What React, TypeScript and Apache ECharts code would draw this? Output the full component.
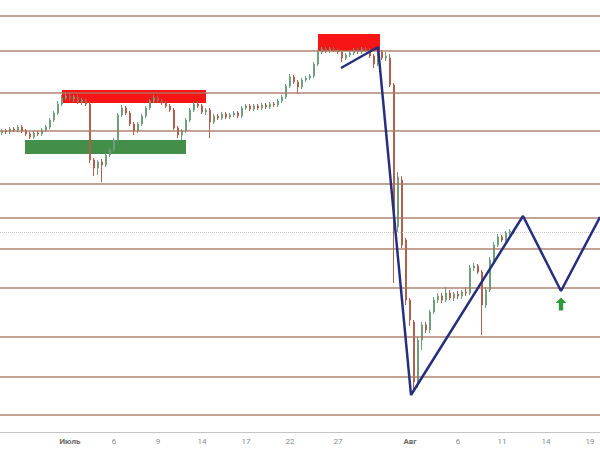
import React, { useEffect, useRef } from "react";
import * as echarts from "echarts";

// candle data: [open, close, low, high]
const candles: number[][] = [
  [399,401,397,403],[401,400,398,403],[400,403,398,405],[403,402,400,405],[402,405,400,407],
  [405,401,399,407],[401,398,396,403],[398,395,393,400],[395,399,393,401],[399,398,396,401],
  [398,402,396,404],[402,405,400,407],[405,412,403,414],[412,419,410,421],[419,428,417,431],
  [428,434,426,437],[434,436,432,440],[436,433,431,439],[433,435,430,437],[435,430,428,437],
  [430,432,427,434],[432,428,426,434],[428,372,369,430],[372,364,356,374],[364,370,357,372],
  [370,367,350,373],[367,377,365,379],[377,382,375,384],[382,392,380,394],[392,417,390,419],
  [417,424,415,427],[424,419,417,426],[419,408,406,421],[408,401,397,410],[401,408,399,410],
  [408,416,406,418],[416,424,414,426],[424,431,422,433],[431,434,429,437],[434,431,429,436],
  [431,429,427,433],[429,426,424,431],[426,422,420,428],[422,404,402,424],[404,397,394,406],
  [397,401,392,403],[401,412,399,414],[412,422,410,424],[422,428,420,430],[428,426,424,431],
  [426,420,418,428],[420,422,417,424],[422,410,394,424],[410,416,408,418],[416,414,412,418],
  [414,418,412,420],[418,415,413,420],[415,417,413,419],[417,419,415,421],[419,416,414,421],
  [416,424,414,426],[424,426,422,428],[426,423,421,428],[423,426,421,428],[426,424,422,428],
  [424,427,422,429],[427,425,423,429],[425,428,423,430],[428,427,425,430],[427,431,425,433],
  [431,435,429,437],[435,446,433,448],[446,455,444,458],[455,450,448,457],[450,445,438,452],
  [445,452,443,454],[452,454,450,456],[454,456,452,458],[456,468,454,470],[468,480,466,482],
  [480,483,478,485],[483,481,479,485],[481,483,479,485],[483,482,480,485],[482,480,478,484],
  [480,474,470,482],[474,477,472,479],[477,479,475,481],[479,482,477,484],[482,480,478,484],
  [480,483,478,485],[483,482,480,485],[482,476,474,484],[476,468,464,478],[468,480,466,485],
  [480,474,472,482],[474,476,471,480],[474,447,445,478],[447,312,249,449],[305,355,300,360],
  [352,287,284,356],[292,232,227,294],[232,212,206,234],[210,150,142,212],[150,192,144,195],
  [192,207,182,210],[207,202,199,210],[202,220,199,222],[220,232,218,235],[232,236,229,239],
  [236,232,229,239],[232,239,230,245],[239,234,232,242],[234,238,231,240],[238,236,233,241],
  [236,240,233,242],[240,239,236,245],[239,264,237,267],[264,266,261,269],[266,260,258,268],
  [260,227,197,262],[227,242,224,245],[242,272,240,275],[272,287,270,290],[287,295,285,298],
  [295,292,290,297],[292,299,290,301],[299,301,297,303],[301,300,298,303],
];

const categoryCount = 150;
const tickIndex = [17, 28, 39, 50, 61, 72, 84, 102, 114, 125, 136, 147];
const tickLabels = ["Июль", "6", "9", "14", "17", "22", "27", "Авг", "6", "11", "14", "19"];

// horizontal support / resistance levels
const levels = [516, 481, 439, 401, 348, 314, 283, 244, 195, 155, 117];
const currentPrice = 300;

// zigzag projection [x index, price]
const zigzag: number[][] = [
  [84.75, 464], [94, 485], [102.25, 137], [130.25, 316], [139.75, 241], [149.5, 315],
];

// zones: [x1, x2, y1, y2]
const redZones: number[][] = [
  [15, 51, 442, 429],
  [79, 94.5, 498, 481],
];
const greenZones: number[][] = [[5.75, 46, 392, 378]];
const arrowPoint = [139.75, 228];

export default function App() {
  const ref = useRef<HTMLDivElement>(null);
  useEffect(() => {
    if (!ref.current) return;
    const chart = echarts.init(ref.current, null, { renderer: "svg" });
    const categories = Array.from({ length: categoryCount }, (_, i) => String(i));
    const labelMap: Record<string, string> = {};
    tickIndex.forEach((ti, k) => (labelMap[String(ti)] = tickLabels[k]));

    chart.setOption({
      animation: false,
      backgroundColor: "#ffffff",
      grid: { left: 0, right: 0, top: 0, bottom: 18 },
      xAxis: [
        {
          type: "category",
          data: categories,
          boundaryGap: true,
          axisLine: { show: true, lineStyle: { color: "#c4c4c4", width: 1 } },
          axisTick: { show: false },
          splitLine: { show: false },
          axisLabel: {
            interval: (i: number) => tickIndex.includes(i),
            formatter: (v: string) => {
              const l = labelMap[v] || "";
              return l === "Июль" || l === "Авг" ? "{b|" + l + "}" : l;
            },
            color: "#8a8a8a",
            fontSize: 8,
            fontFamily: "Roboto, sans-serif",
            margin: 5,
            rich: { b: { fontWeight: "bold", fontSize: 8, color: "#6a6a6a" } },
          },
        },
        { type: "value", min: -0.5, max: categoryCount - 0.5, show: false },
      ],
      yAxis: {
        type: "value",
        min: 100,
        max: 532,
        show: false,
        splitLine: { show: false },
      },
      series: [
        {
          type: "candlestick",
          data: candles,
          barWidth: "62%",
          itemStyle: {
            color: "#6e9f7e",
            color0: "#b0604f",
            borderColor: "#6e9f7e",
            borderColor0: "#b0604f",
            borderWidth: 1,
          },
          z: 2,
        },
        {
          type: "line",
          xAxisIndex: 1,
          data: [],
          silent: true,
          z: 1,
          markLine: {
            silent: true,
            symbol: "none",
            label: { show: false },
            data: [
              ...levels.map((v) => ({
                yAxis: v,
                lineStyle: { color: "#a87760", width: 1.7, type: "solid", opacity: 0.9 },
              })),
              {
                yAxis: currentPrice,
                lineStyle: { color: "#c8c8c8", width: 1, type: "dotted" },
              },
            ],
          },
        },
        {
          type: "line",
          xAxisIndex: 1,
          data: zigzag,
          symbol: "none",
          lineStyle: { color: "#24307f", width: 2.5 },
          z: 5,
          markArea: {
            silent: true,
            data: [
              ...redZones.map((r) => [
                { xAxis: r[0], yAxis: r[2], itemStyle: { color: "#f70b0b", opacity: 0.96 } },
                { xAxis: r[1], yAxis: r[3] },
              ]),
              ...greenZones.map((r) => [
                { xAxis: r[0], yAxis: r[2], itemStyle: { color: "#35873b", opacity: 0.93 } },
                { xAxis: r[1], yAxis: r[3] },
              ]),
            ],
          },
          markPoint: {
            silent: true,
            symbol: "path://M5,0 L10,5 L7,5 L7,12 L3,12 L3,5 L0,5 Z",
            symbolSize: [11, 13],
            itemStyle: { color: "#2f9a3a" },
            label: { show: false },
            data: [{ coord: arrowPoint }],
          },
        },
      ],
    });
    return () => chart.dispose();
  }, []);
  return (
    <div
      ref={ref}
      style={{ position: "fixed", left: 0, top: 0, width: 600, height: 450, background: "#fff" }}
    />
  );
}
